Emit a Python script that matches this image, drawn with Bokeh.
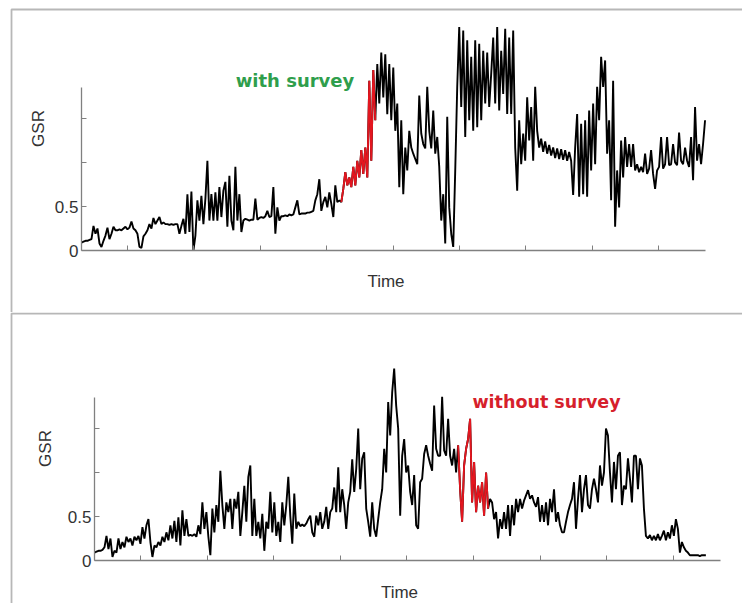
import numpy as np
from bokeh.plotting import figure
from bokeh.models import (Range1d, LinearAxis, FixedTicker, CustomJSTickFormatter,
                          BoxAnnotation, Label)
from bokeh.layouts import column
from bokeh.embed import file_html
from bokeh.resources import INLINE

# ---------------- data (GSR) ----------------
# sampling: start time (min) and interval (min) of each recording
top_t0, top_dt = 0.307, 0.0301
bottom_t0, bottom_dt = 0.309, 0.0300

top_gsr = [
    .09, .10, .11, .11, .12, .13, .28, .19, .25, .08,
    .04, .11, .17, .26, .13, .19, .27, .23, .23, .24,
    .23, .25, .27, .24, .26, .33, .25, .23, .19, .04,
    .03, .16, .19, .23, .30, .25, .37, .30, .34, .38,
    .30, .32, .30, .30, .29, .30, .29, .30, .30, .19,
    .28, .36, .19, .64, .21, .67, .00, .17, .57, .34,
    .62, .30, .59, 1.02, .34, .64, .34, .66, .34, .72,
    .38, .68, .78, .27, .85, .34, .23, .95, .34,
    .64, .21, .34, .36, .35, .34, .35, .35, .59, .35,
    .37, .38, .37, .39, .45, .38, .39, .72, .19, .49,
    .34, .39, .39, .40, .39, .41, .40, .41, .49, .57,
    .41, .42, .42, .42, .43, .43, .44, .45, .57, .64,
    .81, .45, .55, .61, .49, .66, .53, .38, .74, .55,
    .57, .55, .70, .89, .74, .83, .72, .95, .74, 1.02,
    .83, 1.14, .87, 1.17, .83, 1.93, 1.02, 2.05, 1.48, 2.12,
    1.67, 2.25, 1.74, 2.23, 1.55, 2.12, 1.48, 2.08, 1.36,
    1.67, .72, 1.48, .64, 1.17, .91, 1.36, 1.17, 1.10, 1.04,
    .98, 1.76, 1.33, 1.21, 1.16, 1.86, 1.36, 1.16, 1.59, 1.10,
    1.29, .95, .34, .64, .08, 1.52, .49, .19, .04, .91,
    1.86, 2.54, 1.63, 2.50, 1.29, 2.39, 1.48, 2.20, 1.36, 2.39,
    1.40, 2.35, 1.48, 2.27, 1.67, 2.25, 1.63, 2.01, 2.42, 1.67,
    2.54, 1.59, 2.27, 1.78, 2.52, 1.55, 2.42, 1.55, 2.50, 1.17,
    .68, 1.48, .98, 1.33, 1.02, 1.74, 1.25, 1.63, 1.02, 1.86,
    1.36, 1.17, 1.27, 1.12, 1.24, 1.10, 1.20, 1.08, 1.17,
    1.05, 1.16, 1.04, 1.15, 1.03, 1.14, 1.02, 1.12, 1.02, .63,
    1.17, 1.55, .61, 1.44, .64, 1.48, .61, 1.59, .91, 1.67,
    .98, 1.86, 1.48, 2.20, 1.86, 2.16, 1.10, 1.48, .57, 1.93,
    .27, .91, .49, 1.25, .83, 1.29, .95, 1.21, .95, 1.21,
    .91, .98, .89, .95, .89, 1.10, .87, .93, 1.14, .87,
    .70, .91, .95, 1.29, .93, .98, 1.29, .97, .98, 1.21,
    1.00, .97, 1.34, 1.02, .98, 1.17, 1.02, .95, 1.29, .80,
    1.63, 1.02, 1.21, .98, 1.21, 1.48,
]

bottom_gsr = [
    .09, .10, .11, .11, .12, .15, .28, .13, .25, .04,
    .11, .09, .25, .13, .21, .15, .27, .21, .25, .17,
    .27, .23, .28, .19, .38, .25, .40, .47, .21, .04,
    .17, .15, .21, .17, .27, .21, .32, .23, .40, .25,
    .45, .21, .49, .17, .57, .28, .47, .28, .29, .28,
    .30, .27, .40, .30, .66, .36, .55, .27, .06, .59,
    .32, .63, .44, 1.02, .63, .36, .66, .55, .70, .36,
    .70, .59, .78, .28, .55, .85, .44, .95,
    1.08, .28, .70, .28, .44, .25, .53, .11, .44, .36,
    .78, .32, .66, .28, .44, .21, .66, .40, .63, .95,
    .51, .19, .76, .36, .44, .39, .41, .39, .42, .47,
    .51, .32, .27, .51, .40, .55, .36, .44, .61, .36,
    .55, .59, .83, .55, 1.06, .55, .81, .63, .36, .66,
    .78, 1.15, .78, 1.04, 1.50, .81, 1.16, 1.23, .59, .44,
    .27, .66, .36, .27, .47, .66, .81, 1.27, 1.00, 1.80,
    1.42, 1.91, 2.18, 1.76, 1.50, .51, 1.19, 1.38, 1.00,
    1.08, .78, .63, .97, .40, .36, .89, .93, 1.21, 1.31,
    1.19, 1.10, 1.02, 1.76, 1.27, 1.19, 1.19, 1.86, 1.25, 1.19,
    1.61, 1.19, 1.08, 1.27, 1.00, 1.31, .81, .44, 1.08, 1.27,
    1.38, 1.61, .66, 1.12, .55, .85, .66, .89, .51, 1.00,
    .59, .70, .66, .47, .55, .25, .47, .36, .55, .36,
    .63, .28, .63, .40, .70, .55, .70, .59, .68, .74,
    .80, .70, .74, .66, .61, .72, .44, .63, .44, .66,
    .40, .70, .55, .81, .44, .55, .40, .32, .32,
    .44, .55, .63, .70, .89, .36, .70, .97, .55, .81,
    .97, .63, .59, .81, .93, .81, .66, 1.08, .85, 1.00,
    1.50, 1.42, 1.00, .66, 1.12, .81, 1.19, 1.23, .63, .85,
    .81, 1.16, .93, .66, 1.19, 1.19, .81, 1.16, 1.08, .59,
    .28, .25, .29, .23, .28, .23, .30, .23, .28, .34,
    .23, .32, .25, .40, .28, .47, .36, .09, .21, .15,
    .11, .09, .06, .06, .06, .06, .06, .05, .06, .06,
    .06,
]

# survey periods (minutes)
top_survey = (4.21, 4.74)
bottom_survey = (5.76, 6.23)

time_ticks = [1, 2, 3, 4, 5, 6, 7, 8, 9]
gsr_ticks = [0, 0.5, 1.0, 1.5]
gsr_axis_top = 1.85

# ---------------- styling / layout ----------------
W = 742
AXIS_GREY = "#808080"
TEXT = "#333333"
RED = "#e3161f"


def make_panel(values, t0, dt, survey, note, note_color, note_size, g):
    # pixel geometry of this panel -> data coordinates
    def tx(px):
        return 1 + (px - g["tick1"]) / g["tick_px"]

    def vy(py):
        return (g["y0"] - py) / g["ppu"]

    H = g["H"]
    p = figure(width=W, height=H, x_range=Range1d(tx(0), tx(W)),
               y_range=Range1d(vy(H), vy(0)), output_backend="svg",
               toolbar_location=None, min_border=0, x_axis_type=None,
               y_axis_type=None)
    p.outline_line_color = None
    p.background_fill_color = "white"
    p.border_fill_color = "white"

    # panel frame
    p.add_layout(BoxAnnotation(left=tx(g["box"][0]), top=vy(g["box"][1]),
                               right=tx(W) + 50, bottom=vy(H) - 50,
                               fill_alpha=0, line_color="#111111",
                               line_width=1.8))

    t = t0 + np.arange(len(values)) * dt
    gsr = np.asarray(values, dtype=float)
    p.line(t, gsr, line_color="black", line_width=1.9)
    m = (t >= survey[0]) & (t <= survey[1])
    p.line(t[m], gsr[m], line_color=RED, line_width=1.9)

    # main axes
    xax = LinearAxis(fixed_location=0, bounds=(tx(g["ax"][0]), tx(g["ax"][1])),
                     ticker=FixedTicker(ticks=time_ticks),
                     formatter=CustomJSTickFormatter(code="return ''"))
    yax = LinearAxis(fixed_location=tx(g["ax"][0]), bounds=(0, gsr_axis_top),
                     ticker=FixedTicker(ticks=gsr_ticks),
                     formatter=CustomJSTickFormatter(
                         code="if (tick == 0) return '0'; if (Math.abs(tick - 0.5) < 1e-9) return '0.5'; return '';"))
    for ax in (xax, yax):
        ax.axis_line_color = AXIS_GREY
        ax.axis_line_width = 1.3
        ax.major_tick_line_color = AXIS_GREY
        ax.major_tick_in = 5
        ax.major_tick_out = 0
        ax.minor_tick_line_color = None
        ax.major_label_text_font = "Liberation Sans"
        ax.major_label_text_font_size = "17px"
        ax.major_label_text_color = TEXT
        ax.major_label_standoff = 3
    p.add_layout(xax, "below")
    p.add_layout(yax, "left")

    # axis titles
    tc = tx(g["time_cx"])
    tlab = LinearAxis(fixed_location=0, bounds=(tc - 4, tc + 4),
                      ticker=FixedTicker(ticks=[]), axis_label="Time")
    gc = vy(g["gsr_cy"])
    glab = LinearAxis(fixed_location=tx(g["ax"][0]), bounds=(0, 2 * gc),
                      ticker=FixedTicker(ticks=[]), axis_label="GSR")
    for ax, so in ((tlab, g["time_so"]), (glab, g["gsr_so"])):
        ax.axis_line_color = None
        ax.major_tick_line_color = None
        ax.minor_tick_line_color = None
        ax.major_label_standoff = 0
        ax.major_tick_out = 0
        ax.axis_label_standoff = so
        ax.axis_label_text_font = "Liberation Sans"
        ax.axis_label_text_font_size = "17px"
        ax.axis_label_text_font_style = "normal"
        ax.axis_label_text_color = TEXT
    p.add_layout(tlab, "below")
    p.add_layout(glab, "left")

    p.add_layout(Label(x=tx(g["note"][0]), y=vy(g["note"][1]), text=note,
                       text_align="center", text_baseline="middle",
                       text_font="DejaVu Sans", text_font_style="bold",
                       text_font_size=note_size, text_color=note_color))
    return p


top_geom = dict(H=312, tick1=127, tick_px=66.4, y0=250, ppu=88, ax=(81, 705),
                box=(11, 9), time_cx=385.5, gsr_cy=128, time_so=21, gsr_so=34,
                note=(294.5, 80))
bottom_geom = dict(H=291, tick1=140, tick_px=66.6, y0=248, ppu=88, ax=(94, 720),
                   box=(11, 1), time_cx=399, gsr_cy=136, time_so=22, gsr_so=40,
                   note=(546, 89))

p1 = make_panel(top_gsr, top_t0, top_dt, top_survey, "with survey", "#2f9e4c",
                "18px", top_geom)
p2 = make_panel(bottom_gsr, bottom_t0, bottom_dt, bottom_survey, "without survey",
                "#d61f2c", "17.5px", bottom_geom)

layout = column(p1, p2, spacing=0)
open("out.html", "w").write(file_html(layout, INLINE))
